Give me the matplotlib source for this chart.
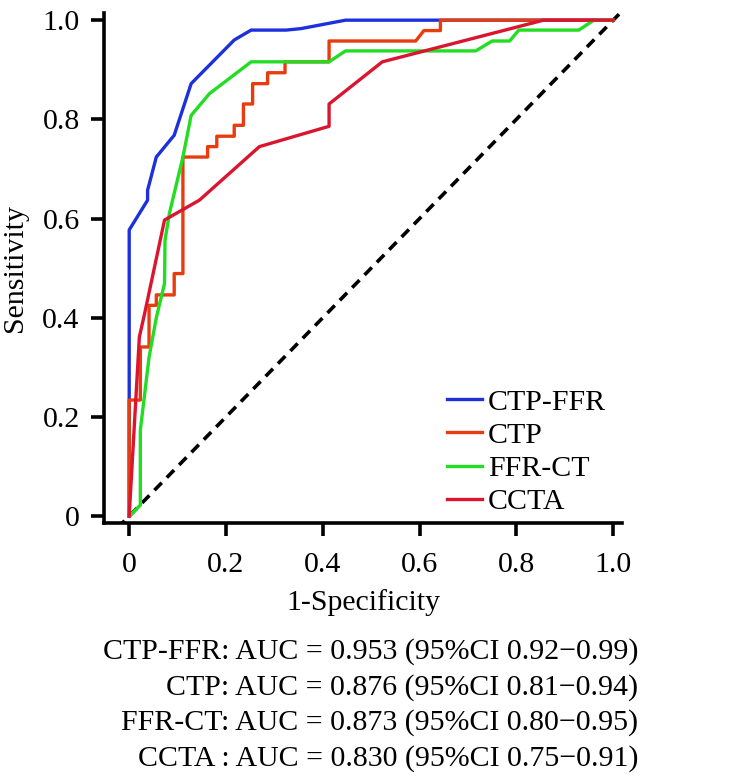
import numpy as np
import matplotlib
matplotlib.use("Agg")
import matplotlib.pyplot as plt

plt.rcParams['font.family'] = ['Liberation Serif', 'DejaVu Serif']

# ROC points (1-specificity, sensitivity)
ctp_ffr_x = [0, 0, 0.038, 0.038, 0.056, 0.093, 0.128, 0.217, 0.252, 0.324, 0.355, 0.447, 1.0]
ctp_ffr_y = [0, 0.577, 0.637, 0.657, 0.724, 0.768, 0.872, 0.960, 0.980, 0.980, 0.983, 1.0, 1.0]

ctp_x = [0, 0, 0.023, 0.023, 0.041, 0.041, 0.056, 0.056, 0.093, 0.093, 0.111, 0.111,
         0.162, 0.162, 0.181, 0.181, 0.217, 0.217, 0.236, 0.236, 0.255, 0.255,
         0.286, 0.286, 0.322, 0.322, 0.413, 0.413, 0.592, 0.609, 0.643, 0.643, 1.0]
ctp_y = [0, 0.234, 0.234, 0.341, 0.341, 0.425, 0.425, 0.446, 0.446, 0.489, 0.489, 0.724,
         0.724, 0.745, 0.745, 0.766, 0.766, 0.788, 0.788, 0.831, 0.831, 0.872,
         0.872, 0.894, 0.894, 0.916, 0.916, 0.958, 0.958, 0.979, 0.979, 1.0, 1.0]

ffr_ct_x = [0, 0.023, 0.023, 0.041, 0.056, 0.073, 0.074, 0.083, 0.111, 0.128, 0.166,
            0.252, 0.413, 0.447, 0.716, 0.750, 0.786, 0.805, 0.929, 0.960, 1.0]
ffr_ct_y = [0, 0.022, 0.173, 0.320, 0.400, 0.469, 0.556, 0.610, 0.724, 0.808, 0.852,
            0.916, 0.916, 0.938, 0.938, 0.958, 0.958, 0.980, 0.980, 1.0, 1.0]

ccta_x = [0, 0.021, 0.032, 0.073, 0.145, 0.269, 0.413, 0.413, 0.523, 0.856, 1.0]
ccta_y = [0, 0.361, 0.409, 0.597, 0.637, 0.745, 0.786, 0.831, 0.916, 1.0, 1.0]

labels = ["CTP-FFR", "CTP", "FFR-CT", "CCTA"]
colors = ["#1c30dc", "#e83c0e", "#22dd22", "#da1530"]
auc_lines = [
    "CTP-FFR: AUC = 0.953 (95%CI 0.92\u22120.99)",
    "CTP: AUC = 0.876 (95%CI 0.81\u22120.94)",
    "FFR-CT: AUC = 0.873 (95%CI 0.80\u22120.95)",
    "CCTA : AUC = 0.830 (95%CI 0.75\u22120.91)",
]

fs = 21.5
fig = plt.figure(figsize=(7.56, 7.81), dpi=100)
ax = fig.add_axes([0.1376, 0.3303, 0.685, 0.6534])

xlo, xhi = -0.052, 1.018
ylo, yhi = -0.014, 1.015
ax.plot([-0.05, 1.02], [-0.05, 1.02], color="black", lw=2.6, ls=(0, (2.9, 2.0)), zorder=1)

curves = [(ctp_ffr_x, ctp_ffr_y), (ctp_x, ctp_y), (ffr_ct_x, ffr_ct_y), (ccta_x, ccta_y)]
# orange steps drawn last, like the original
order = [0, 2, 3, 1]
handles = {}
for i in order:
    x, y = curves[i]
    h, = ax.plot(x, y, color=colors[i], lw=2.4, label=labels[i], zorder=2 + i)
    handles[i] = h

ax.set_xlim(xlo, xhi)
ax.set_ylim(ylo, yhi)
ticks = [0, 0.2, 0.4, 0.6, 0.8, 1.0]
ticklabels = ["0", "0.2", "0.4", "0.6", "0.8", "1.0"]
ax.set_xticks(ticks)
ax.set_xticklabels(ticklabels)
ax.set_yticks(ticks)
ax.set_yticklabels(ticklabels)

for s in ["top", "right"]:
    ax.spines[s].set_visible(False)
for s in ["left", "bottom"]:
    ax.spines[s].set_linewidth(2.6)
ax.tick_params(direction="out", length=9.5, width=2.6, labelsize=fs)
ax.tick_params(axis="y", pad=8)
ax.tick_params(axis="x", pad=11)

ax.set_xlabel("1-Specificity", fontsize=fs, labelpad=8)
ax.set_ylabel("Sensitivity", fontsize=fs, labelpad=10)

leg = ax.legend([handles[i] for i in range(4)], labels, loc="upper left",
                bbox_to_anchor=(0.662, 0.263), frameon=False, fontsize=fs,
                handlelength=1.17, handletextpad=0.2, labelspacing=0.21,
                borderpad=0, borderaxespad=0)

for k, line in enumerate(auc_lines):
    fig.text(0.844, 1 - (652 + k * 35.5) / 781, line, ha="right", va="center", fontsize=fs)

fig.savefig("out.png", dpi=100)
